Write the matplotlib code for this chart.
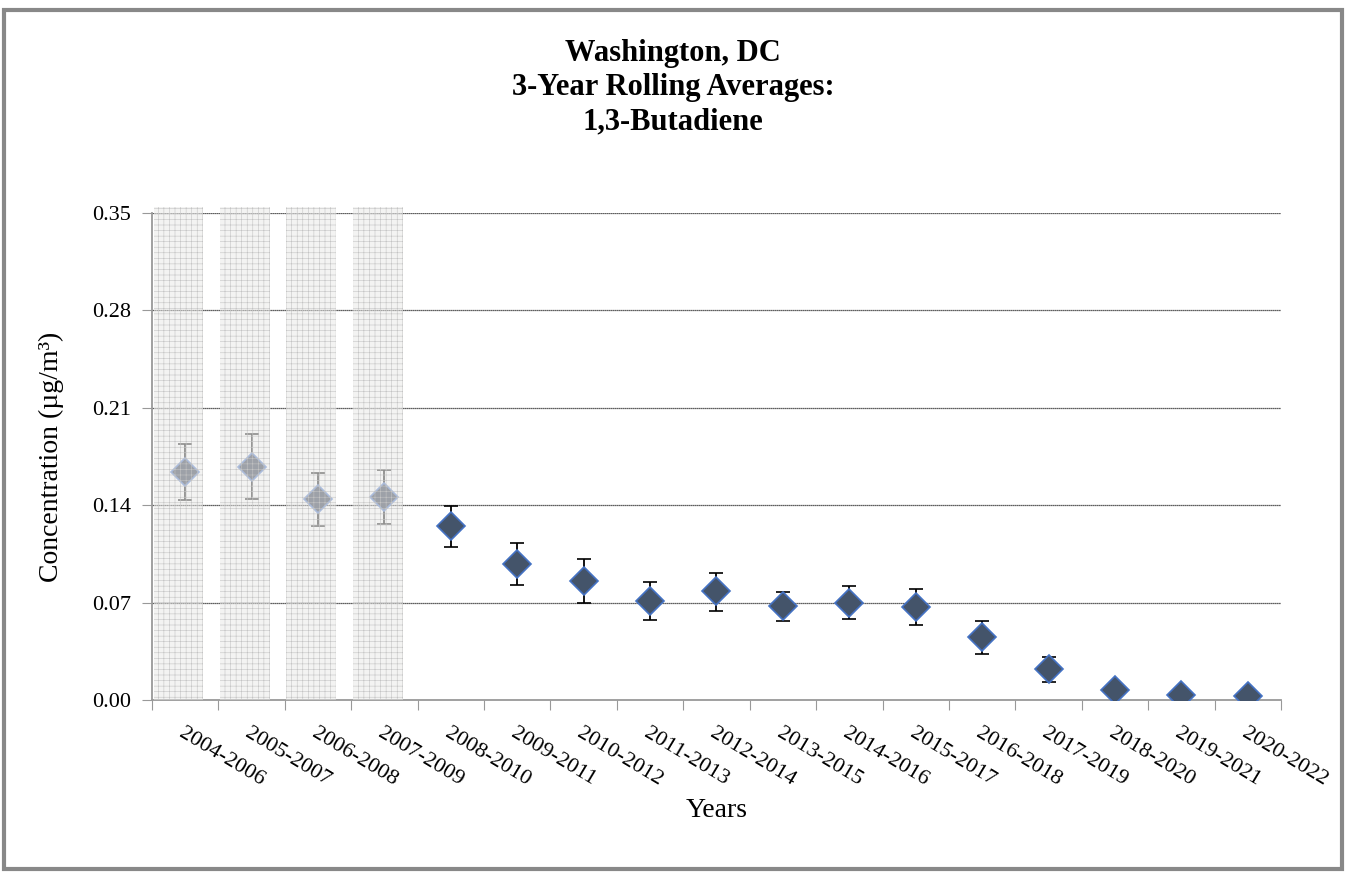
import matplotlib.pyplot as plt
import matplotlib.patches as mpatches
import numpy as np

periods = ['2004-2006', '2005-2007', '2006-2008', '2007-2009', '2008-2010',
           '2009-2011', '2010-2012', '2011-2013', '2012-2014', '2013-2015',
           '2014-2016', '2015-2017', '2016-2018', '2017-2019', '2018-2020',
           '2019-2021', '2020-2022']
averages = [0.164, 0.1675, 0.1445, 0.146, 0.125, 0.0978, 0.0855, 0.0712,
            0.0784, 0.0676, 0.0700, 0.0670, 0.0453, 0.0225, 0.0072, 0.0038,
            0.0027]
err_upper = [0.184, 0.191, 0.163, 0.165, 0.1397, 0.1129, 0.1014, 0.0848,
             0.0913, 0.0779, 0.0820, 0.0798, 0.0568, 0.0311, 0.0090, 0.0045,
             0.0032]
err_lower = [0.144, 0.1445, 0.125, 0.1265, 0.110, 0.0827, 0.0697, 0.0575,
             0.0642, 0.0568, 0.0585, 0.0540, 0.0333, 0.0132, 0.0055, 0.0031,
             0.0022]
shaded = 4  # first periods greyed out
yticks = [0.00, 0.07, 0.14, 0.21, 0.28, 0.35]

plt.rcParams['font.family'] = ['Liberation Serif', 'DejaVu Serif']
plt.rcParams['hatch.linewidth'] = 0.4

fig = plt.figure(figsize=(13.46, 8.72), dpi=100)
ax = fig.add_axes([0.1129, 0.1972, 0.8388, 0.5585])

x = np.arange(len(periods))
avg = np.array(averages)
up = np.array(err_upper) - avg
lo = avg - np.array(err_lower)

n = len(periods)
ax.errorbar(x[shaded:], avg[shaded:], yerr=[lo[shaded:], up[shaded:]],
            fmt='D', ms=14, mfc='#44546a', mec='#4472c4', mew=1.2,
            ecolor='black', elinewidth=1.3, capsize=5, capthick=1.3, zorder=4)
ax.errorbar(x[:shaded], avg[:shaded], yerr=[lo[:shaded], up[:shaded]],
            fmt='D', ms=14, mfc='#525a6a', mec='#6f90d0', mew=1.2,
            ecolor='#333333', elinewidth=1.3, capsize=5, capthick=1.3, zorder=4)

ax.bar(x[:shaded] - 0.1, [0.354] * shaded, width=0.75, bottom=0.0,
       color=(0.91, 0.91, 0.90, 0.5), edgecolor='#c4c4c4', linewidth=0,
       hatch='+++', zorder=5, clip_on=False)

ax.set_xlim(-0.5, n - 0.5)
ax.set_ylim(0, 0.35)
ax.set_yticks(yticks)
ax.set_yticklabels([f'{v:.2f}' for v in yticks], fontsize=16)
ax.set_xticks(np.arange(-0.5, n, 1.0))
ax.set_xticklabels([])
ax.set_xticks(x, minor=True)
ax.set_xticklabels(periods, minor=True, rotation=-31, ha='left', va='top',
                   rotation_mode='anchor', fontsize=16)
ax.tick_params(axis='x', which='minor', length=0, pad=17)
ax.tick_params(axis='x', which='major', length=7, color='#999999', direction='out')
ax.tick_params(axis='y', length=7, color='#999999', direction='out', pad=8)

for v in yticks[1:]:
    ax.axhline(v, color='#2a2a2a', lw=0.9, ls=(0, (1, 0.6)), zorder=1)

for s in ['top', 'right']:
    ax.spines[s].set_visible(False)
for s in ['left', 'bottom']:
    ax.spines[s].set_color('#999999')
    ax.spines[s].set_linewidth(1.3)

ax.set_ylabel('Concentration (µg/m³)', fontsize=20, labelpad=20)
ax.set_xlabel('Years', fontsize=20, labelpad=6)

fig.text(0.5, 0.844, 'Washington, DC\n3-Year Rolling Averages:\n1,3-Butadiene',
         ha='center', va='bottom', fontsize=22, fontweight='bold',
         linespacing=1.22)

fig.patches.append(mpatches.Rectangle((0.003, 0.003), 0.994, 0.986,
                                      transform=fig.transFigure, fill=False,
                                      edgecolor='#888888', linewidth=3))

fig.savefig('out.png', dpi=100)
